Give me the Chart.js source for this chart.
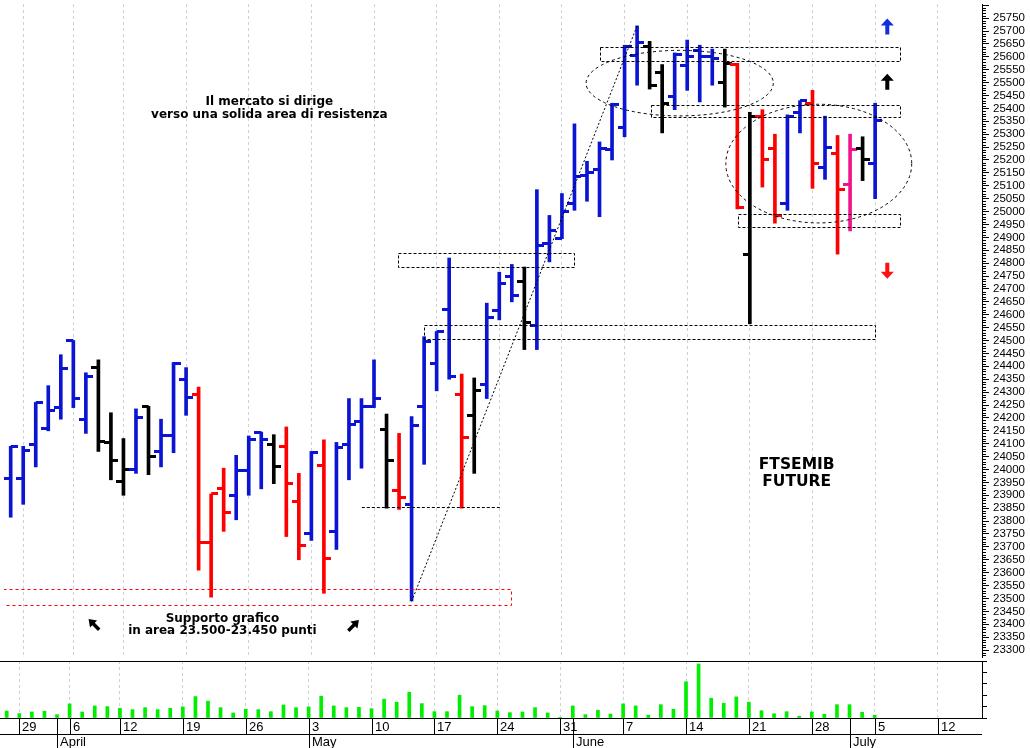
<!DOCTYPE html>
<html><head><meta charset="utf-8">
<script src="https://cdn.jsdelivr.net/npm/chart.js"></script>
<style>
html,body{margin:0;padding:0;background:#fff;width:1030px;height:748px;overflow:hidden}
canvas{display:block}
</style></head><body>
<canvas id="price" width="1030" height="661" style="width:1030px;height:661px"></canvas>
<canvas id="vol" width="1030" height="87" style="width:1030px;height:87px"></canvas>
<script>
// ---------- DATA ----------
const FIRST_INDEX = -1; // trading-day index of first date (Mar 29 = 0)
const dates = [
 "2021-03-26","2021-03-29","2021-03-30","2021-03-31","2021-04-01",
 "2021-04-06","2021-04-07","2021-04-08","2021-04-09",
 "2021-04-12","2021-04-13","2021-04-14","2021-04-15","2021-04-16",
 "2021-04-19","2021-04-20","2021-04-21","2021-04-22","2021-04-23",
 "2021-04-26","2021-04-27","2021-04-28","2021-04-29","2021-04-30",
 "2021-05-03","2021-05-04","2021-05-05","2021-05-06","2021-05-07",
 "2021-05-10","2021-05-11","2021-05-12","2021-05-13","2021-05-14",
 "2021-05-17","2021-05-18","2021-05-19","2021-05-20","2021-05-21",
 "2021-05-24","2021-05-25","2021-05-26","2021-05-27","2021-05-28",
 "2021-05-31","2021-06-01","2021-06-02","2021-06-03","2021-06-04",
 "2021-06-07","2021-06-08","2021-06-09","2021-06-10","2021-06-11",
 "2021-06-14","2021-06-15","2021-06-16","2021-06-17","2021-06-18",
 "2021-06-21","2021-06-22","2021-06-23","2021-06-24","2021-06-25",
 "2021-06-28","2021-06-29","2021-06-30","2021-07-01","2021-07-02",
 "2021-07-05"
];
const open = [
 23965,23965,24095,24160,24240,
 24500,24195,24395,24105,
 23955,24000,24245,24070,24130,
 24350,24290,23715,23925,23900,
 23995,24145,24095,24090,23875,
 23750,24015,23760,24095,24185,
 24245,24155,23920,23865,24245,
 24410,24620,24290,24210,24330,
 24615,24750,24730,24560,24875,
 24895,25030,25140,25165,25240,
 25325,25605,25640,25540,25445,
 25565,25625,25600,25500,25570,
 24835,25370,25245,25030,25385,
 25420,25170,25225,25105,25245,
 25185
];
const high = [
 24090,24090,24260,24325,24445,
 24500,24375,24425,24220,
 24120,24235,24245,24195,24415,
 24395,24320,23905,24005,24055,
 24130,24145,24135,24165,23985,
 24070,24115,24105,24275,24275,
 24425,24215,24140,24205,24515,
 24535,24820,24370,24355,24645,
 24765,24795,24785,25085,24985,
 25070,25340,25195,25270,25420,
 25645,25720,25660,25570,25615,
 25665,25645,25630,25630,25575,
 25385,25395,25300,25375,25430,
 25470,25370,25295,25300,25290,
 25420
];
const low = [
 23815,23865,24010,24150,24195,
 24240,24140,24070,23960,
 23900,23985,23980,24010,24065,
 24210,23610,23505,23760,23805,
 23900,23925,23945,23740,23650,
 23725,23520,23690,23960,24005,
 24240,23850,23845,23490,24020,
 24305,24350,23850,23985,24275,
 24580,24650,24465,24465,24805,
 24895,25005,25040,24980,25200,
 25290,25490,25475,25305,25395,
 25470,25425,25490,25405,25010,
 24565,25095,24955,25005,25305,
 25090,25125,24835,24925,25120,
 25050
];
const close = [
 24090,24075,24260,24230,24390,
 24275,24360,24110,24035,
 24000,24200,24050,24130,24410,
 24280,23715,23905,23835,23995,
 24115,24115,24010,23945,23705,
 24065,23655,24085,24175,24245,
 24275,24035,23890,24170,24495,
 24535,24360,24125,24305,24590,
 24720,24675,24570,24870,24925,
 25000,25135,25150,25245,25415,
 25640,25655,25490,25420,25610,
 25600,25600,25595,25575,25015,
 25370,25200,24985,25370,25430,
 25185,25250,25085,25240,25200,
 25355
];
const volume = [
 7200,4500,6200,6900,3400,
 14500,6200,12400,11700,
 10000,8600,10600,8600,10000,
 11400,22000,17300,10600,5200,
 9000,8600,6500,13400,10600,
 11400,22400,12400,10600,11000,
 9600,19300,16200,26500,14800,
 6500,6500,23400,11700,12700,
 7200,5500,6200,10600,5200,
 700,12400,3400,8000,4100,
 14500,12400,2800,13700,9000,
 37200,55500,20300,15200,21700,
 16200,7500,4400,6500,1800,
 6200,3800,13700,13700,5900,
 2800
];
// bar category: U = blue, D = red, N = black, P = pink
const barType = [
 "U","U","U","U","U",
 "U","U","N","N",
 "N","U","N","U","U",
 "U","D","D","D","U",
 "U","U","N","D","D",
 "U","D","U","U","U",
 "U","N","D","U","U",
 "U","U","D","N","U",
 "U","U","N","U","U",
 "U","U","U","U","U",
 "U","U","N","N","U",
 "U","U","U","N","D",
 "N","D","D","U","U",
 "D","U","D","P","N",
 "U"
];
const weekTicks  = [0,4,8,13,18,23,28,33,38,43,48,53,58,63,68,73];
const weekLabels = ["29","6","12","19","26","3","10","17","24","31","7","14","21","28","5","12"];
const monthTicks  = [3,23,44,66];
const monthLabels = ["April","May","June","July"];

// ---------- STYLE / LAYOUT ----------
const X_MIN = -1.534, X_MAX = 76.53;
const P_MIN = 23273, P_MAX = 25804.8;
const V_MAX = 58520;
const AXIS_W = 48;
const COLORS = {U:'#0a14d2', D:'#ff0000', N:'#000000', P:'#f0148c'};
const AXIS_FONT = {family:'"Liberation Sans", Arial, sans-serif', size:11.5};
const DATE_FONT = '13px "Liberation Sans Narrow", "Liberation Sans", Arial, sans-serif';
const NOTE_FONT = 'bold 12px "DejaVu Sans", Verdana, sans-serif';
const BIG_FONT = 'bold 15.5px "DejaVu Sans", Verdana, sans-serif';

const xs = dates.map((d, i) => i + FIRST_INDEX);
const barColors = barType.map(t => COLORS[t]);

const tickCache = {};
function tickImg(color, side) {
  const key = color + side;
  if (!tickCache[key]) {
    const c = document.createElement('canvas');
    c.width = 14; c.height = 3;
    const g = c.getContext('2d');
    g.fillStyle = color || '#000';
    if (side === 'L') g.fillRect(0, 0, 7, 3); else g.fillRect(7, 0, 7, 3);
    tickCache[key] = c;
  }
  return tickCache[key];
}

function xAxis() {
  return {
    type: 'linear', min: X_MIN, max: X_MAX, offset: false,
    afterBuildTicks: s => { s.ticks = weekTicks.map(v => ({value: v})); },
    afterFit: s => { s.height = 0; s.paddingLeft = 0; s.paddingRight = 0; },
    ticks: {display: false},
    grid: {display: true, drawTicks: false, drawOnChartArea: true, color: '#cfd0d8', lineWidth: 1, offset: false},
    border: {display: false, dash: [3, 3]}
  };
}

// ---------- ANNOTATIONS (data coordinates) ----------
const NOTE_BOXES = [
  {x0: 29.94, x1: 43.99, y0: 24786, y1: 24838, color: '#000', dash: [3, 2]},
  {x0: 32.03, x1: 67.97, y0: 24505, y1: 24560, color: '#000', dash: [3, 2]},
  {x0: 46.0,  x1: 69.96, y0: 25585, y1: 25639, color: '#000', dash: [3, 2]},
  {x0: 50.1,  x1: 69.96, y0: 25368, y1: 25415, color: '#000', dash: [3, 2]},
  {x0: 57.07, x1: 69.96, y0: 24940, y1: 24992, color: '#000', dash: [3, 2]},
  {x0: -5,    x1: 38.93, y0: 23475, y1: 23538, color: '#ff0000', dash: [3, 3]}
];
const NOTE_LINES = [
  {x0: 27.03, y0: 23854, x1: 38.08, y1: 23854, color: '#000', dash: [3, 2]},
  {x0: 31, y0: 23490, x1: 49, y1: 25720, color: '#000', dash: [2, 2]}
];
const NOTE_ELLIPSES = [
  {cx: 52.4, cy: 25498, rx: 7.47, ry: 127},
  {cx: 63.5, cy: 25186, rx: 7.42, ry: 230}
];
const NOTE_ARROWS = [
  {x: 68.97, y: 25717.5, angle: 0,   color: '#1030e0', len: 16, headW: 13, headL: 7, shaftW: 4},
  {x: 68.97, y: 25503.4, angle: 0,   color: '#000000', len: 16, headW: 13, headL: 7, shaftW: 4},
  {x: 68.97, y: 24770.7, angle: 180, color: '#ff1010', len: 16, headW: 13, headL: 7, shaftW: 4},
  {x: 5.64,  y: 23399.6, angle: -45, color: '#000000', len: 15, headW: 10, headL: 7, shaftW: 3.5},
  {x: 26.37, y: 23395.7, angle: 45,  color: '#000000', len: 15, headW: 10, headL: 7, shaftW: 3.5}
];
const NOTE_TEXTS = [
  {x: 19.65, y: 25425.6, text: 'Il mercato si dirige', font: NOTE_FONT},
  {x: 19.65, y: 25374,   text: 'verso una solida area di resistenza', font: NOTE_FONT},
  {x: 15.9,  y: 23422.5, text: 'Supporto grafico', font: NOTE_FONT},
  {x: 15.9,  y: 23372.8, text: 'in area 23.500-23.450 punti', font: NOTE_FONT},
  {x: 61.74, y: 24018,   text: 'FTSEMIB', font: BIG_FONT},
  {x: 61.74, y: 23953,   text: 'FUTURE', font: BIG_FONT}
];

function drawArrow(ctx, px, py, a) {
  ctx.save();
  ctx.translate(px, py);
  ctx.rotate(a.angle * Math.PI / 180);
  const h = a.len / 2;
  ctx.fillStyle = a.color;
  ctx.beginPath();
  ctx.moveTo(0, -h);
  ctx.lineTo(a.headW / 2, -h + a.headL);
  ctx.lineTo(a.shaftW / 2, -h + a.headL);
  ctx.lineTo(a.shaftW / 2, h);
  ctx.lineTo(-a.shaftW / 2, h);
  ctx.lineTo(-a.shaftW / 2, -h + a.headL);
  ctx.lineTo(-a.headW / 2, -h + a.headL);
  ctx.closePath();
  ctx.fill();
  ctx.restore();
}

const notesPlugin = {
  id: 'notes',
  afterDatasetsDraw(chart) {
    const {ctx, chartArea: ca} = chart;
    const sx = chart.scales.x, sy = chart.scales.y;
    const X = v => sx.getPixelForValue(v), Y = v => sy.getPixelForValue(v);
    const al = v => Math.round(v) + 0.5;
    ctx.save();
    ctx.beginPath(); ctx.rect(ca.left, ca.top, ca.right - ca.left, ca.bottom - ca.top); ctx.clip();
    ctx.lineWidth = 1;
    for (const b of NOTE_BOXES) {
      ctx.setLineDash(b.dash); ctx.strokeStyle = b.color;
      const x0 = al(X(b.x0)), x1 = al(X(b.x1)), y0 = al(Y(b.y1)), y1 = al(Y(b.y0));
      ctx.strokeRect(x0, y0, x1 - x0, y1 - y0);
    }
    for (const l of NOTE_LINES) {
      ctx.setLineDash(l.dash); ctx.strokeStyle = l.color;
      ctx.beginPath(); ctx.moveTo(X(l.x0), al(Y(l.y0))); ctx.lineTo(X(l.x1), l.y0 === l.y1 ? al(Y(l.y1)) : Y(l.y1)); ctx.stroke();
    }
    ctx.setLineDash([3, 3]); ctx.strokeStyle = '#000';
    for (const e of NOTE_ELLIPSES) {
      const cx = X(e.cx), cy = Y(e.cy);
      const rx = Math.abs(X(e.cx + e.rx) - cx), ry = Math.abs(Y(e.cy + e.ry) - cy);
      ctx.beginPath(); ctx.ellipse(cx, cy, rx, ry, 0, 0, Math.PI * 2); ctx.stroke();
    }
    ctx.setLineDash([]);
    for (const a of NOTE_ARROWS) drawArrow(ctx, X(a.x), Y(a.y), a);
    ctx.fillStyle = '#000'; ctx.textAlign = 'center'; ctx.textBaseline = 'middle';
    for (const t of NOTE_TEXTS) { ctx.font = t.font; ctx.fillText(t.text, X(t.x), Y(t.y)); }
    ctx.restore();
  }
};

const minorTicks = {
  id: 'minorTicks',
  afterDraw(chart) {
    const s = chart.scales.y, ctx = chart.ctx;
    ctx.save(); ctx.strokeStyle = '#000'; ctx.lineWidth = 1; ctx.beginPath();
    for (let v = Math.ceil(s.min / 10) * 10; v <= s.max; v += 10) {
      if (v % 50 === 0) continue;
      const py = Math.round(s.getPixelForValue(v)) + 0.5;
      ctx.moveTo(s.left, py); ctx.lineTo(s.left + 4, py);
    }
    ctx.stroke(); ctx.restore();
  }
};

const dateAxis = {
  id: 'dateAxis',
  afterDraw(chart) {
    const ctx = chart.ctx, sx = chart.scales.x, ca = chart.chartArea;
    const b = ca.bottom, r = ca.right, H = chart.height;
    const al = v => Math.round(v) + 0.5;
    ctx.save(); ctx.strokeStyle = '#000'; ctx.lineWidth = 1; ctx.setLineDash([]);
    ctx.beginPath();
    ctx.moveTo(0, 0.5); ctx.lineTo(r, 0.5);
    ctx.moveTo(0, al(b)); ctx.lineTo(r, al(b));
    ctx.moveTo(0, al(b + 15.5)); ctx.lineTo(r, al(b + 15.5));
    for (const t of weekTicks) { const px = al(sx.getPixelForValue(t)); ctx.moveTo(px, b); ctx.lineTo(px, b + 16); }
    for (const t of monthTicks) { const px = al(sx.getPixelForValue(t)); ctx.moveTo(px, b); ctx.lineTo(px, H); }
    ctx.stroke();
    ctx.fillStyle = '#000'; ctx.font = DATE_FONT; ctx.textAlign = 'left'; ctx.textBaseline = 'middle';
    weekTicks.forEach((t, i) => ctx.fillText(weekLabels[i], Math.round(sx.getPixelForValue(t)) + 3, b + 9));
    monthTicks.forEach((t, i) => ctx.fillText(monthLabels[i], Math.round(sx.getPixelForValue(t)) + 3, b + 24.5));
    ctx.restore();
  }
};

const common = {
  responsive: false, animation: false, devicePixelRatio: 1, events: [],
  plugins: {legend: {display: false}, tooltip: {enabled: false}}
};

new Chart(document.getElementById('price'), {
  type: 'bar',
  data: {datasets: [
    {type: 'bar', data: xs.map((x, i) => ({x, y: [low[i], high[i]]})), backgroundColor: barColors,
     barThickness: 3, borderWidth: 0, order: 2},
    {type: 'line', data: xs.map((x, i) => ({x, y: open[i]})), showLine: false, pointRadius: 3, pointHoverRadius: 3,
     pointStyle: c => tickImg(barColors[c.dataIndex], 'L'), order: 1},
    {type: 'line', data: xs.map((x, i) => ({x, y: close[i]})), showLine: false, pointRadius: 3, pointHoverRadius: 3,
     pointStyle: c => tickImg(barColors[c.dataIndex], 'R'), order: 1}
  ]},
  options: Object.assign({}, common, {
    layout: {padding: 0},
    scales: {
      x: xAxis(),
      y: {
        type: 'linear', position: 'right', min: P_MIN, max: P_MAX,
        afterFit: s => { s.width = AXIS_W; s.paddingTop = 0; s.paddingBottom = 0; },
        ticks: {stepSize: 50, autoSkip: false, includeBounds: false, padding: 4, color: '#000', font: AXIS_FONT,
                callback: v => (v > 25760 ? '' : String(v))},
        grid: {drawOnChartArea: false, drawTicks: true, tickLength: 7, color: '#000'},
        border: {display: true, color: '#000', width: 1}
      }
    }
  }),
  plugins: [minorTicks, notesPlugin]
});

new Chart(document.getElementById('vol'), {
  type: 'bar',
  data: {datasets: [
    {data: xs.map((x, i) => ({x, y: volume[i]})), backgroundColor: '#00ee00', barThickness: 3, borderWidth: 0}
  ]},
  options: Object.assign({}, common, {
    layout: {padding: {bottom: 30}},
    scales: {
      x: xAxis(),
      y: {
        type: 'linear', position: 'right', min: 0, max: V_MAX,
        afterFit: s => { s.width = AXIS_W; s.paddingTop = 0; s.paddingBottom = 0; },
        ticks: {stepSize: 12500, autoSkip: false, includeBounds: false, padding: 6, color: '#000', font: AXIS_FONT,
                callback: v => (v === 50000 ? '50000' : '')},
        grid: {drawOnChartArea: false, drawTicks: true, tickLength: 5, color: '#000'},
        border: {display: true, color: '#000', width: 1}
      }
    }
  }),
  plugins: [dateAxis]
});
</script>
</body></html>
